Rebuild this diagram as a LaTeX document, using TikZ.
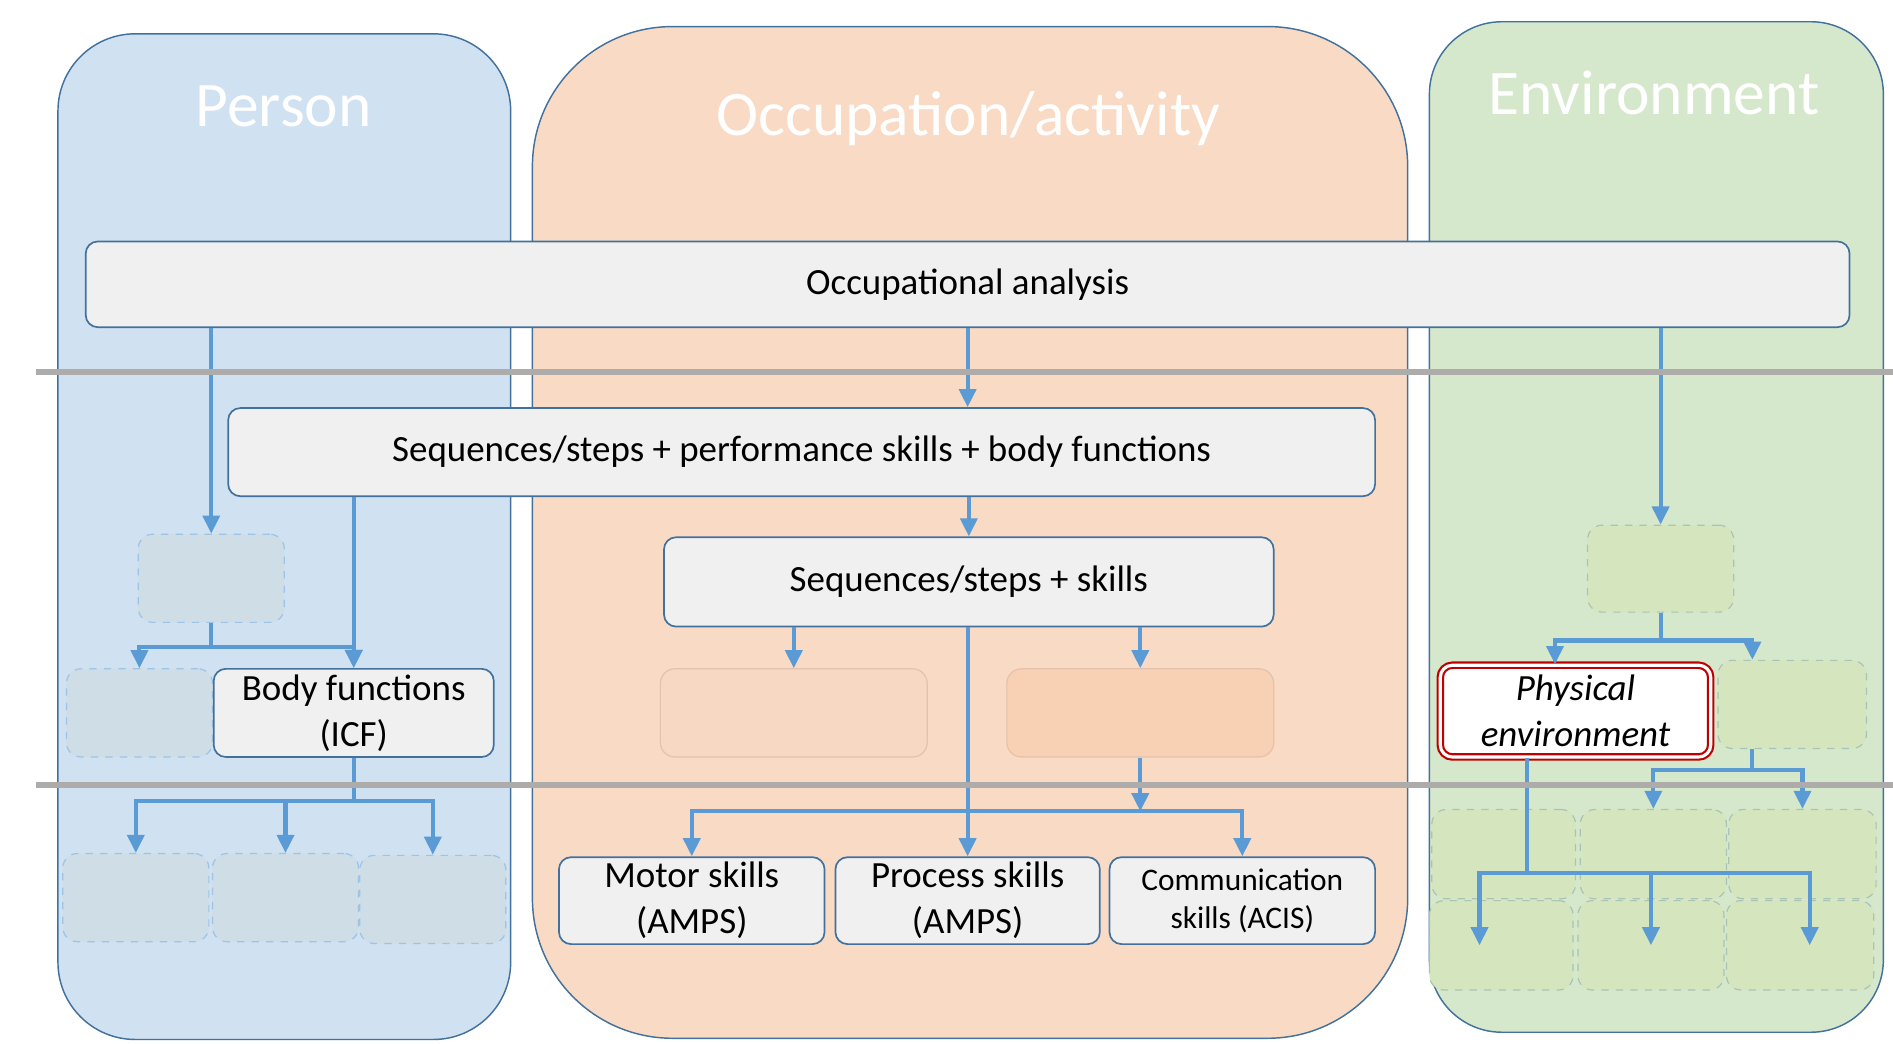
\documentclass[tikz,border=0pt]{standalone}
\usepackage{fontspec}
\setmainfont{Carlito}
\usetikzlibrary{arrows.meta}

\definecolor{personfill}{HTML}{D0E1F2}
\definecolor{occfill}{HTML}{F8DAC5}
\definecolor{envfill}{HTML}{D6E8CC}
\definecolor{panelline}{HTML}{41719C}
\definecolor{boxfill}{HTML}{F0F0F0}
\definecolor{flowblue}{HTML}{5B9BD5}
\definecolor{splitgray}{HTML}{AEABAB}
\definecolor{pghost}{HTML}{CFDDE6}
\definecolor{pghostline}{HTML}{9DC3E6}
\definecolor{eghost}{HTML}{D5E5BE}
\definecolor{eghostline}{HTML}{A9C4B4}
\definecolor{oone}{HTML}{F7D8C3}
\definecolor{otwo}{HTML}{F8D0B4}
\definecolor{oline}{HTML}{E3C2AE}
\definecolor{physred}{HTML}{C00000}

\begin{document}
\begin{tikzpicture}[x=0.5pt, y=-0.5pt, >={Triangle[length=7.5pt,width=7pt]},
    panel/.style={draw=panelline, line width=0.6pt},
    title/.style={text=white, font=\fontsize{26.3}{30}\selectfont},
    box/.style={draw=panelline, fill=boxfill, rounded corners=5pt, line width=0.7pt,
        align=center, inner sep=0pt, font=\fontsize{15.3}{19}\selectfont},
    pbox/.style={draw=pghostline, fill=pghost, dashed, rounded corners=6pt, line width=0.5pt,
        minimum width=60.5pt, minimum height=36.5pt},
    ebox/.style={draw=eghostline, fill=eghost, dashed, rounded corners=6pt, line width=0.5pt,
        minimum width=60.5pt, minimum height=37pt},
    obox/.style={draw=oline, rounded corners=6pt, line width=0.5pt,
        minimum width=110.5pt, minimum height=36.5pt},
    flow/.style={->, draw=flowblue, line width=1.7pt},
    split/.style={draw=splitgray, line width=2.5pt}]
    \useasboundingbox (0,0) rectangle (1568,864);

    % the three areas
    \draw[panel, fill=personfill, rounded corners=32pt] (48,28) rectangle (423,861);
    \draw[panel, fill=occfill, rounded corners=58pt] (441,22) rectangle (1166,860);
    \draw[panel, fill=envfill, rounded corners=30pt] (1184,18) rectangle (1560,855);
    \node[title] (tperson) at (235,88) {Person};
    \node[title] (toccup) at (802,98) {Occupation/activity};
    \node[title] (tenv) at (1370,77) {Environment};

    % main boxes
    \node[box, minimum width=730.5pt, minimum height=35.5pt] (OA) at (801.5,235.5) {Occupational analysis};
    \node[box, minimum width=475pt, minimum height=36.5pt] (SPB) at (664,374.5) {Sequences/steps + performance skills + body functions};
    \node[box, minimum width=252.5pt, minimum height=37pt] (SS) at (802.5,482) {Sequences/steps + skills};

    % person
    \node[pbox] (P1) at (175,479) {};
    \node[pbox] (P2) at (115.5,590.5) {};
    \node[box, minimum width=116pt, minimum height=36.5pt] (BF) at (293,590.5) {Body functions\\(ICF)};
    \node[pbox] (P3) at (112.5,743.5) {};
    \node[pbox] (P4) at (236.5,743.5) {};
    \node[pbox] (P5) at (358.5,745) {};

    % occupation
    \node[obox, fill=oone] (O1) at (657.5,590.5) {};
    \node[obox, fill=otwo] (O2) at (944.5,590.5) {};
    \node[box, minimum width=110pt, minimum height=36pt] (Motor) at (573,746) {Motor skills\\(AMPS)};
    \node[box, minimum width=109.5pt, minimum height=36pt] (Process) at (801.5,746) {Process skills\\(AMPS)};
    \node[box, minimum width=110pt, minimum height=36pt, font=\fontsize{13}{15.5}\selectfont] (Comm) at (1029,746) {Communication\\skills (ACIS)};

    % environment
    \node[ebox, minimum height=36pt] (E1) at (1375.5,471) {};
    \node[box, fill=white, draw=physred, double=white, double distance=1.3pt, line width=0.9pt,
        minimum width=112pt, minimum height=38pt, font=\fontsize{15.3}{19}\selectfont\itshape] (PE) at (1305,589) {Physical\\environment};
    \node[ebox, minimum width=61.5pt, minimum height=36.5pt] (E2) at (1484.5,583.5) {};
    \node[ebox, minimum width=59.5pt] (E3) at (1245.5,707.5) {};
    \node[ebox] (E4) at (1369.5,707.5) {};
    \node[ebox, minimum width=61pt] (E5) at (1493,707.5) {};
    \node[ebox, minimum width=59.5pt] (E6) at (1243.5,783) {};
    \node[ebox] (E7) at (1367.5,783) {};
    \node[ebox, minimum width=61pt] (E8) at (1491,783) {};

    % arrows
    \path
    (OA.south) edge[flow] (OA.south |- SPB.north)
    (OA.south -| P1.north) edge[flow] (P1.north)
    (OA.south -| E1.north) edge[flow] (E1.north)
    (SPB.south -| BF.north) edge[flow] (BF.north)
    (SPB.south -| SS.north) edge[flow] (SS.north)
    (SS.south -| O1.north) edge[flow] (O1.north)
    (SS.south -| O2.north) edge[flow] (O2.north)
    (SS.south -| Process.north) edge[flow] (Process.north)
    ;
    \draw[flow] (P1.south) -- ++(0,20) -| (P2.north);
    \draw[flow] (P1.south) -- ++(0,20) -| (BF.north);
    \foreach \t in {P3,P4,P5}
        \draw[flow] (BF.south) -- ++(0,36) -| (\t.north);

    \coordinate (mbus) at (801.5,672);
    \foreach \t in {Motor,Comm}
        \draw[flow] (SS.south -| Process.north) -- (mbus) -| (\t.north);
    \draw[flow] (O2.south) -- (O2.south |- mbus);

    \draw[flow] (E1.south) -- ++(0,23) -| ([xshift=-8.5pt]PE.north);
    \draw[flow] (E1.south) -- ++(0,23) -| ([xshift=-16.5pt]E2.north);
    \foreach \t in {E4,E5}
        \draw[flow] ([xshift=-16.5pt]E2.south) -- ++(0,17) -| (\t.north);
    \draw[flow] ([xshift=-20pt]PE.south) -- ++(0,95) -| ([xshift=-9pt]E6.center);
    \draw[flow] ([xshift=-20pt]PE.south) -- ++(0,95) -| (E7.center);
    \draw[flow] ([xshift=-20pt]PE.south) -- ++(0,95) -| ([xshift=4pt]E8.center);

    % level lines
    \draw[split] (30,308) -- (1568,308);
    \draw[split] (30,650) -- (1568,650);
\end{tikzpicture}
\end{document}
